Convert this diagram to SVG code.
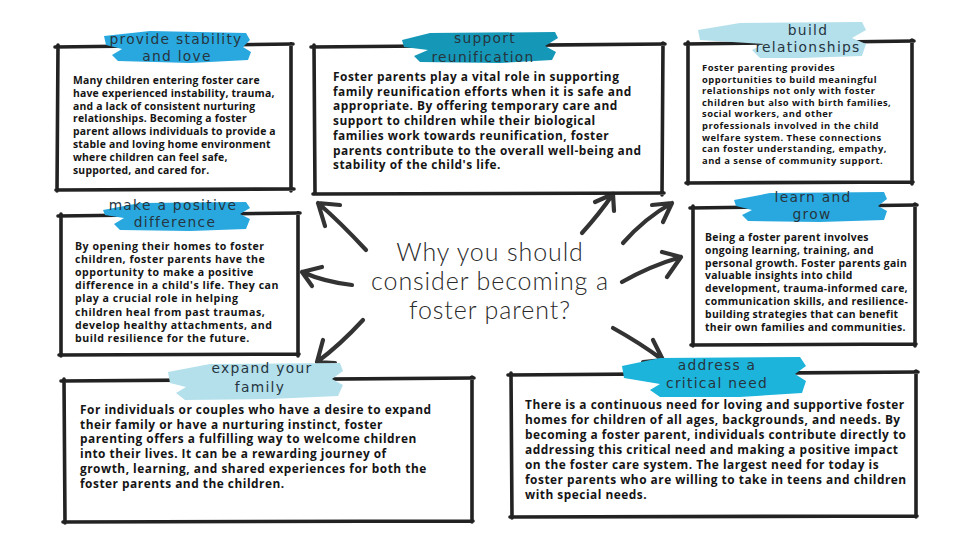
<svg xmlns="http://www.w3.org/2000/svg" width="980" height="551" viewBox="0 0 980 551">
<defs>
<style>
.bg{fill:#ffffff}
.frame{fill:none;stroke:#222;stroke-width:3.6;stroke-linecap:round;stroke-linejoin:round}
.body{font-family:"Open Sans","Lato","Liberation Sans",sans-serif;font-weight:700;fill:#151515}
.title{font-family:"DejaVu Sans","Liberation Sans",sans-serif;font-size:13.8px;fill:#263540;text-anchor:middle;letter-spacing:1.3px}
.center{font-family:"Lato","Open Sans","Liberation Sans",sans-serif;font-weight:300;font-size:25px;letter-spacing:0.9px;fill:#2a2a2a;text-anchor:middle}
.arrow{fill:none;stroke:#333;stroke-width:4.2;stroke-linecap:round;stroke-linejoin:round}
.blue{fill:#29a8df}
.teal{fill:#1598b8}
.light{fill:#b4e0ec}
.cyan{fill:#1cb4db}
</style>
</defs>
<rect class="bg" x="0" y="0" width="980" height="551"/>

<g id="connectors">
<path class="arrow" d="M366,250 Q340,222 318,203 M340,205 L318,203 L325,226"/>
<path class="arrow" d="M352,285 Q325,282 302,272 M322,267 L302,272 L312,286"/>
<path class="arrow" d="M363,320 Q340,345 317,362 M323,340 L317,362 L335,363"/>
<path class="arrow" d="M582,233 Q600,213 613,194 M595,202 L613,194 L614,211"/>
<path class="arrow" d="M623,243 Q645,218 672,203 M652,205 L672,203 L663,222"/>
<path class="arrow" d="M622,282 Q650,266 681,257 M662,252 L681,257 L667,277"/>
<path class="arrow" d="M613,328 Q640,343 663,360 M653,340 L663,360 L643,362"/>
</g>

<g id="center-title">
<text class="center" x="490" y="261">Why you should</text>
<text class="center" x="490" y="290">consider becoming a</text>
<text class="center" x="490" y="319">foster parent?</text>
</g>

<g id="provide-stability">
<path class="frame" d="M55,47 L293,44 M58,45 L57,191 M291,44 L291,191 M56,190 L294,189"/>
<path class="blue" d="M104,36 L150,31 L246,33 L250,40 L243,47 L251,52 L248,60 L190,63 L118,61 L112,55 L122,49 L106,45 Z"/>
<text class="title" x="176" y="44">provide stability</text>
<text class="title" x="177" y="61">and love</text>
<text class="body" font-size="10.4" letter-spacing="0.2">
<tspan x="73" y="84">Many children entering foster care</tspan>
<tspan x="73" y="96.8">have experienced instability, trauma,</tspan>
<tspan x="73" y="109.6">and a lack of consistent nurturing</tspan>
<tspan x="73" y="122.4">relationships. Becoming a foster</tspan>
<tspan x="73" y="135.2">parent allows individuals to provide a</tspan>
<tspan x="73" y="148">stable and loving home environment</tspan>
<tspan x="73" y="160.8">where children can feel safe,</tspan>
<tspan x="73" y="173.6">supported, and cared for.</tspan>
</text>
</g>

<g id="support-reunification">
<path class="frame" d="M311,47 L665,44 M314,45 L315,194 M663,43 L662,195 M313,194 L664,193"/>
<path class="teal" d="M402,40 L430,33 L555,32 L558,38 L545,46 L556,52 L552,60 L500,63 L420,62 L414,56 L428,50 L404,47 Z"/>
<text class="title" x="485" y="43">support</text>
<text class="title" x="483" y="62">reunification</text>
<text class="body" font-size="11.9" letter-spacing="0.5">
<tspan x="333" y="81">Foster parents play a vital role in supporting</tspan>
<tspan x="333" y="95.7">family reunification efforts when it is safe and</tspan>
<tspan x="333" y="110.4">appropriate. By offering temporary care and</tspan>
<tspan x="333" y="125.1">support to children while their biological</tspan>
<tspan x="333" y="139.8">families work towards reunification, foster</tspan>
<tspan x="333" y="154.5">parents contribute to the overall well-being and</tspan>
<tspan x="333" y="169.2">stability of the child's life.</tspan>
</text>
</g>

<g id="build-relationships">
<path class="frame" d="M685,44 L914,41 M688,42 L688,184 M912,40 L912,184 M686,183 L913,182"/>
<path class="light" d="M698,30 L740,23 L862,22 L866,30 L852,38 L866,44 L862,56 L800,58 L760,58 L752,50 L764,44 L700,40 Z"/>
<text class="title" x="808" y="35">build</text>
<text class="title" x="808" y="52">relationships</text>
<text class="body" font-size="9.4" letter-spacing="0.5">
<tspan x="702" y="71">Foster parenting provides</tspan>
<tspan x="702" y="82.6">opportunities to build meaningful</tspan>
<tspan x="702" y="94.2">relationships not only with foster</tspan>
<tspan x="702" y="105.8">children but also with birth families,</tspan>
<tspan x="702" y="117.4">social workers, and other</tspan>
<tspan x="702" y="129">professionals involved in the child</tspan>
<tspan x="702" y="140.6">welfare system. These connections</tspan>
<tspan x="702" y="152.2">can foster understanding, empathy,</tspan>
<tspan x="702" y="163.8">and a sense of community support.</tspan>
</text>
</g>

<g id="make-difference">
<path class="frame" d="M58,216 L300,213 M61,214 L61,356 M298,213 L298,356 M59,355 L299,354"/>
<path class="blue" d="M103,210 L140,203 L246,202 L250,208 L240,214 L250,219 L246,229 L190,231 L120,230 L114,224 L124,218 L105,215 Z"/>
<text class="title" x="173" y="210">make a positive</text>
<text class="title" x="175" y="227">difference</text>
<text class="body" font-size="10.6" letter-spacing="0.5">
<tspan x="75" y="250">By opening their homes to foster</tspan>
<tspan x="75" y="263.1">children, foster parents have the</tspan>
<tspan x="75" y="276.2">opportunity to make a positive</tspan>
<tspan x="75" y="289.3">difference in a child's life. They can</tspan>
<tspan x="75" y="302.4">play a crucial role in helping</tspan>
<tspan x="75" y="315.5">children heal from past traumas,</tspan>
<tspan x="75" y="328.6">develop healthy attachments, and</tspan>
<tspan x="75" y="341.7">build resilience for the future.</tspan>
</text>
</g>

<g id="learn-grow">
<path class="frame" d="M690,208 L917,205 M693,206 L693,346 M915,204 L915,346 M691,345 L916,344"/>
<path class="blue" d="M734,200 L770,193 L884,192 L887,199 L878,206 L887,211 L884,220 L820,222 L748,221 L742,215 L752,210 L736,206 Z"/>
<text class="title" x="813" y="202">learn and</text>
<text class="title" x="812" y="219">grow</text>
<text class="body" font-size="10.4" letter-spacing="0.3">
<tspan x="705" y="241">Being a foster parent involves</tspan>
<tspan x="705" y="253.8">ongoing learning, training, and</tspan>
<tspan x="705" y="266.6">personal growth. Foster parents gain</tspan>
<tspan x="705" y="279.4">valuable insights into child</tspan>
<tspan x="705" y="292.2">development, trauma-informed care,</tspan>
<tspan x="705" y="305">communication skills, and resilience-</tspan>
<tspan x="705" y="317.8">building strategies that can benefit</tspan>
<tspan x="705" y="330.6">their own families and communities.</tspan>
</text>
</g>

<g id="expand-family">
<path class="frame" d="M61,381 L474,378 M64,379 L65,523 M472,377 L472,522 M63,522 L473,521"/>
<path class="light" d="M168,372 L210,364 L340,363 L343,371 L332,379 L343,385 L338,396 L270,399 L185,400 L176,393 L186,387 L170,383 Z"/>
<text class="title" x="262" y="373">expand your</text>
<text class="title" x="260" y="392">family</text>
<text class="body" font-size="11.9" letter-spacing="0.5">
<tspan x="80" y="414">For individuals or couples who have a desire to expand</tspan>
<tspan x="80" y="428.7">their family or have a nurturing instinct, foster</tspan>
<tspan x="80" y="443.4">parenting offers a fulfilling way to welcome children</tspan>
<tspan x="80" y="458.1">into their lives. It can be a rewarding journey of</tspan>
<tspan x="80" y="472.8">growth, learning, and shared experiences for both the</tspan>
<tspan x="80" y="487.5">foster parents and the children.</tspan>
</text>
</g>

<g id="critical-need">
<path class="frame" d="M508,375 L918,372 M511,373 L512,518 M916,371 L916,517 M510,517 L917,516"/>
<path class="cyan" d="M622,366 L660,358 L800,357 L806,366 L795,374 L806,381 L802,393 L740,397 L660,397 L650,390 L660,384 L624,378 Z"/>
<text class="title" x="717" y="370">address a</text>
<text class="title" x="717" y="388">critical need</text>
<text class="body" font-size="11.9" letter-spacing="0.5">
<tspan x="525" y="409">There is a continuous need for loving and supportive foster</tspan>
<tspan x="525" y="424">homes for children of all ages, backgrounds, and needs. By</tspan>
<tspan x="525" y="439">becoming a foster parent, individuals contribute directly to</tspan>
<tspan x="525" y="454">addressing this critical need and making a positive impact</tspan>
<tspan x="525" y="469">on the foster care system. The largest need for today is</tspan>
<tspan x="525" y="484">foster parents who are willing to take in teens and children</tspan>
<tspan x="525" y="499">with special needs.</tspan>
</text>
</g>
</svg>
